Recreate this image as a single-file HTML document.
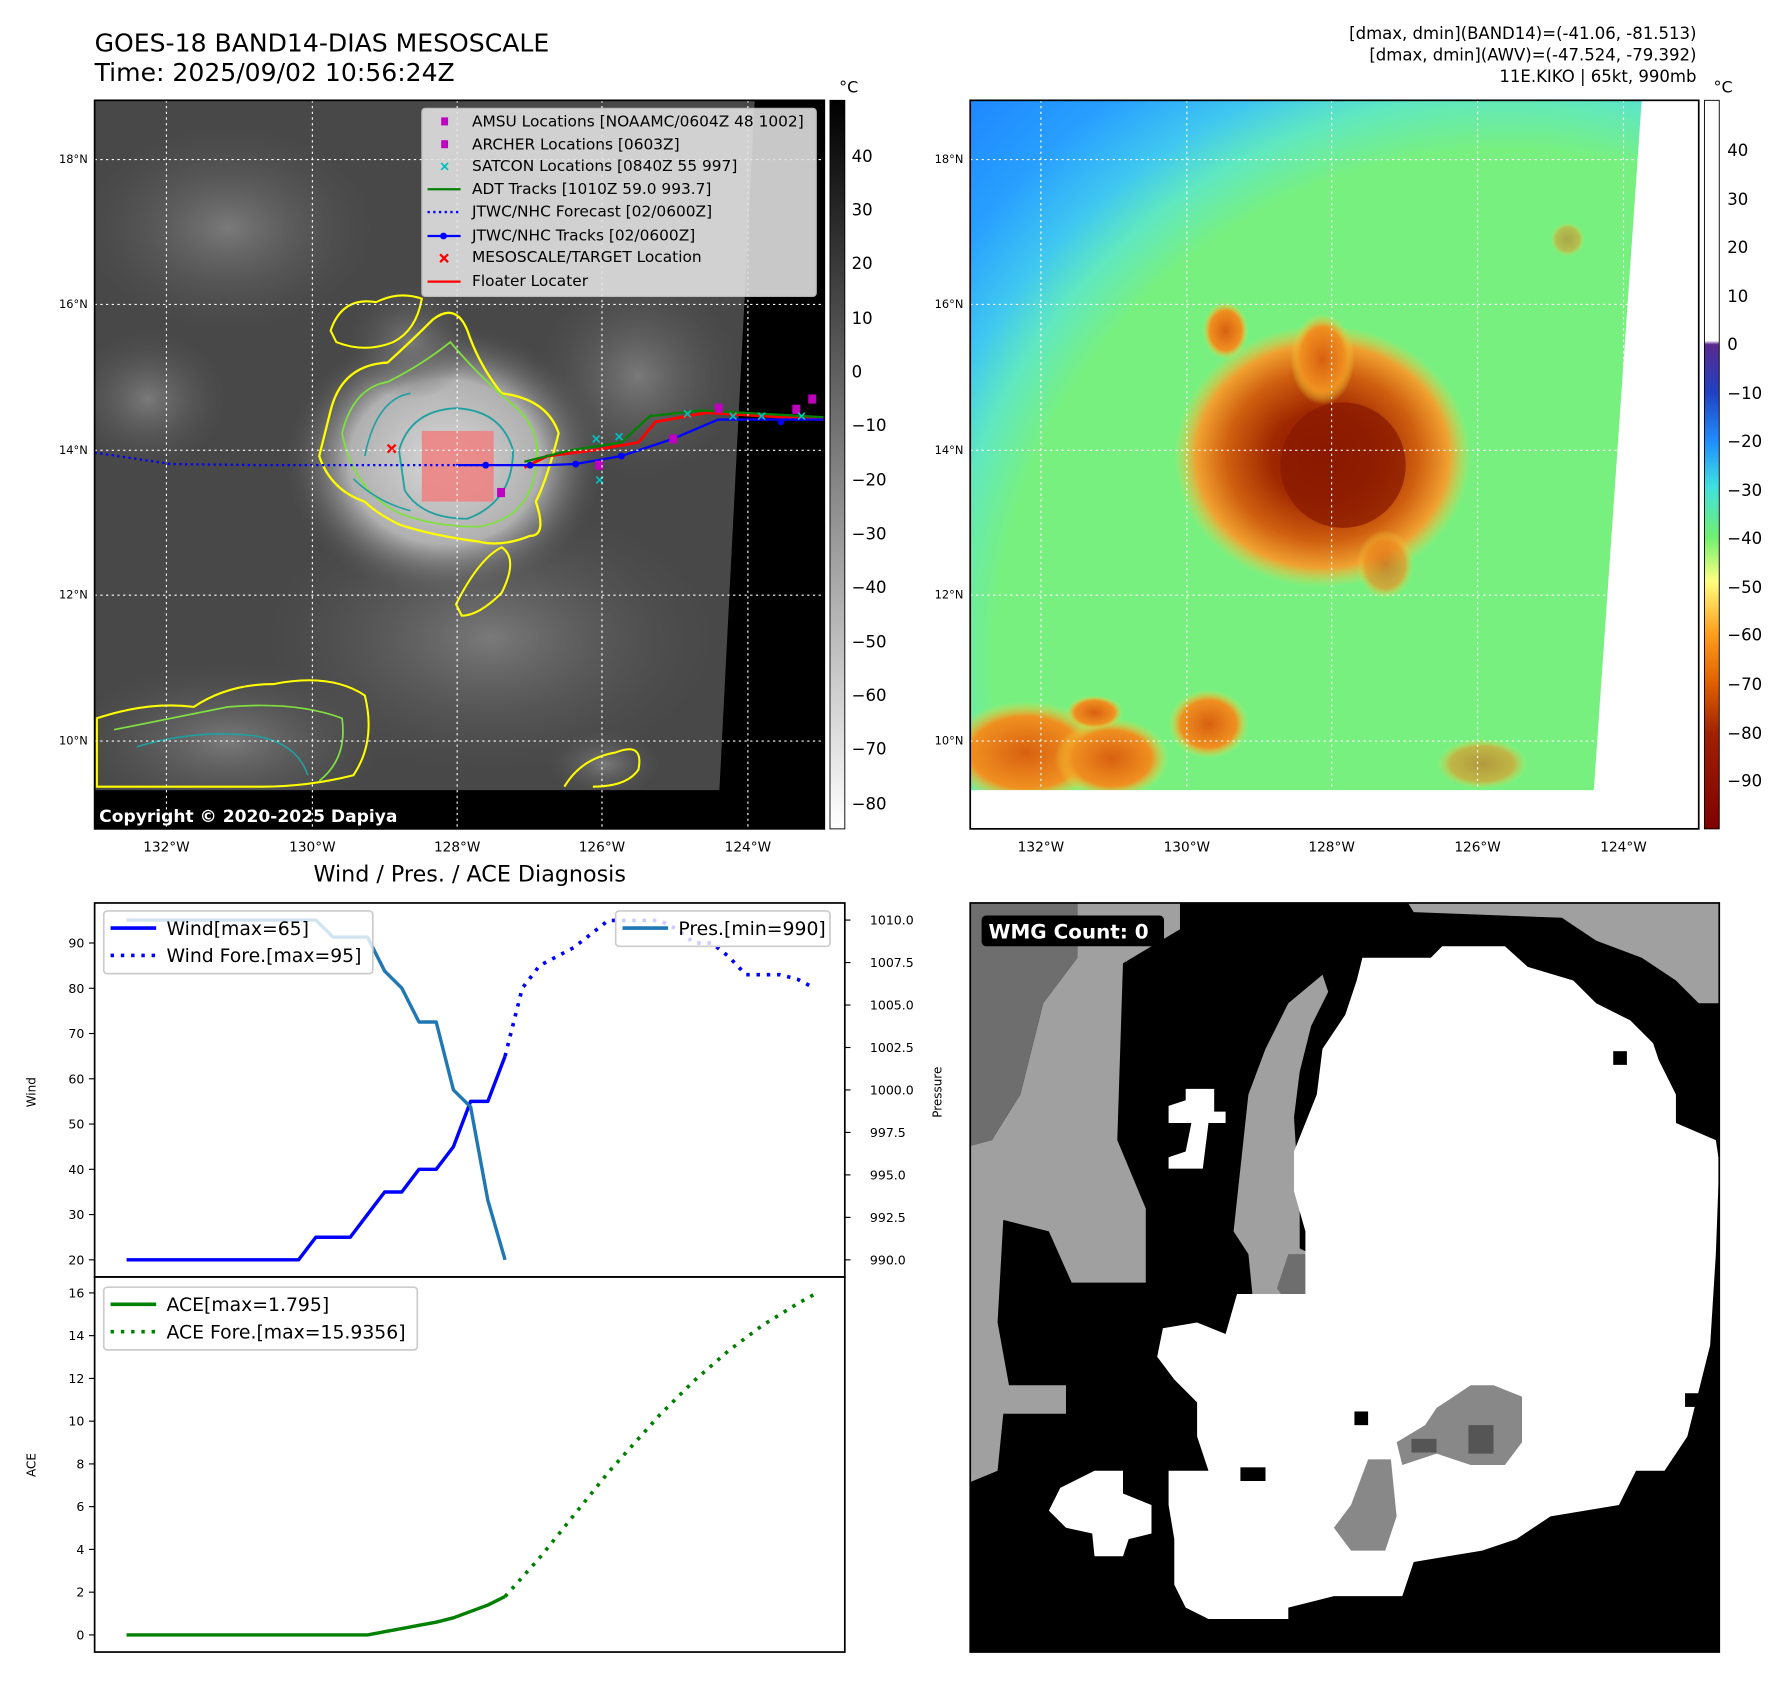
<!DOCTYPE html>
<html><head><meta charset="utf-8"><style>
html,body{margin:0;padding:0;background:#fff;}
svg{display:block;font-family:"DejaVu Sans","Liberation Sans",sans-serif;}
</style></head><body>
<svg id="fig" width="1788" height="1690" viewBox="0 0 1568.3 1482.3" preserveAspectRatio="none" xmlns="http://www.w3.org/2000/svg">
<defs>
<linearGradient id="grayBar" x1="0" y1="0" x2="0" y2="1"><stop offset="0" stop-color="#000"/><stop offset="1" stop-color="#fff"/></linearGradient>
<linearGradient id="colBar" x1="0" y1="0" x2="0" y2="1">
<stop offset="0" stop-color="#fff"/><stop offset="0.33" stop-color="#fff"/><stop offset="0.335" stop-color="#5a2a90"/>
<stop offset="0.4" stop-color="#2040c0"/><stop offset="0.47" stop-color="#2090ff"/><stop offset="0.53" stop-color="#40e0e0"/>
<stop offset="0.6" stop-color="#70f070"/><stop offset="0.66" stop-color="#ffff80"/><stop offset="0.73" stop-color="#ffa020"/>
<stop offset="0.8" stop-color="#e06000"/><stop offset="0.87" stop-color="#a02000"/><stop offset="1" stop-color="#800000"/></linearGradient>
<radialGradient id="skyGrad" gradientUnits="userSpaceOnUse" cx="1320" cy="580" r="680">
<stop offset="0" stop-color="#78f080"/><stop offset="0.66" stop-color="#78f080"/><stop offset="0.73" stop-color="#60e8c0"/>
<stop offset="0.79" stop-color="#40c8f0"/><stop offset="0.88" stop-color="#28a0ff"/><stop offset="1" stop-color="#1e88ff"/></radialGradient>
<radialGradient id="stormGrad"><stop offset="0" stop-color="#8a1800"/><stop offset="0.35" stop-color="#a02800"/><stop offset="0.65" stop-color="#d06010"/><stop offset="0.85" stop-color="#f0a030"/><stop offset="1" stop-color="#f0d040" stop-opacity="0"/></radialGradient>
<radialGradient id="blobGrad"><stop offset="0" stop-color="#d86010"/><stop offset="0.7" stop-color="#f09020"/><stop offset="1" stop-color="#f0e040" stop-opacity="0"/></radialGradient>
<radialGradient id="cloudGrad"><stop offset="0" stop-color="#d8d8d8"/><stop offset="0.6" stop-color="#b0b0b0"/><stop offset="1" stop-color="#555" stop-opacity="0"/></radialGradient>
<radialGradient id="cloudGrad2"><stop offset="0" stop-color="#7a7a7a"/><stop offset="1" stop-color="#555" stop-opacity="0"/></radialGradient>
<clipPath id="clipL"><rect x="83" y="88" width="640" height="639"/></clipPath>
<clipPath id="clipR"><rect x="851" y="88" width="639" height="639"/></clipPath>
</defs>

<text x="83" y="45" font-size="22">GOES-18 BAND14-DIAS MESOSCALE</text>
<text x="83" y="71" font-size="22">Time: 2025/09/02 10:56:24Z</text>
<g font-size="14.5" text-anchor="end">
<text x="1488" y="34">[dmax, dmin](BAND14)=(-41.06, -81.513)</text>
<text x="1488" y="53">[dmax, dmin](AWV)=(-47.524, -79.392)</text>
<text x="1488" y="72">11E.KIKO | 65kt, 990mb</text>
</g>

<g clip-path="url(#clipL)">
<rect x="83" y="88" width="640" height="639" fill="#484848"/>
<ellipse cx="200" cy="200" rx="130" ry="90" fill="url(#cloudGrad2)"/>
<ellipse cx="130" cy="350" rx="70" ry="60" fill="url(#cloudGrad2)"/>
<ellipse cx="430" cy="560" rx="200" ry="120" fill="url(#cloudGrad2)"/>
<ellipse cx="560" cy="330" rx="90" ry="90" fill="url(#cloudGrad2)"/>
<ellipse cx="390" cy="405" rx="140" ry="120" fill="url(#cloudGrad)"/>
<ellipse cx="360" cy="300" rx="55" ry="50" fill="url(#cloudGrad2)"/>
<ellipse cx="200" cy="650" rx="140" ry="70" fill="url(#cloudGrad2)"/>
<ellipse cx="530" cy="670" rx="50" ry="30" fill="url(#cloudGrad2)"/>
<path d="M290,360 Q300,320 340,318 Q360,300 380,280 Q400,265 410,290 Q420,320 440,345 Q480,350 490,380 Q480,420 470,440 Q480,470 465,470 Q440,480 420,475 Q380,470 350,460 Q330,450 320,440 Q290,430 280,400 Z" fill="none" stroke="#ffff00" stroke-width="2"/>
<path d="M300,380 Q310,340 340,335 Q370,320 395,300 Q420,330 450,355 Q480,380 468,420 Q460,455 420,462 Q380,462 350,450 Q310,430 300,380 Z" fill="none" stroke="#80e040" stroke-width="1.6"/>
<path d="M350,395 Q360,360 400,358 Q440,360 450,395 Q450,440 410,455 Q370,455 355,430 Z" fill="none" stroke="#20a0a0" stroke-width="1.6"/>
<path d="M320,400 Q330,350 360,345 M310,420 Q330,440 360,448" fill="none" stroke="#20a0a0" stroke-width="1.4"/>
<path d="M290,290 Q300,260 330,265 Q350,255 370,262 Q365,290 345,300 Q320,310 295,300 Z" fill="none" stroke="#ffff00" stroke-width="1.8"/>
<path d="M85,630 Q130,615 170,620 Q200,600 240,600 Q290,590 320,610 Q330,650 310,680 Q270,690 230,690 L85,690 Z" fill="none" stroke="#ffff00" stroke-width="1.8"/>
<path d="M100,640 Q150,630 200,620 Q260,615 300,630 Q305,665 280,685" fill="none" stroke="#80e040" stroke-width="1.5"/>
<path d="M120,655 Q170,640 220,645 Q260,650 270,680" fill="none" stroke="#20a0a0" stroke-width="1.4"/>
<path d="M495,690 Q510,665 540,660 Q565,650 560,675 Q550,690 520,690" fill="none" stroke="#ffff00" stroke-width="1.8"/>
<path d="M400,530 Q420,490 440,480 Q455,490 440,520 Q420,540 405,540 Z" fill="none" stroke="#ffff00" stroke-width="1.8"/>
<polygon points="662,88 723,88 723,727 83,727 83,693 631,693" fill="#000"/>
<rect x="370" y="378" width="63" height="62" fill="#f08080" opacity="0.85"/>
<polyline points="83,397 150,407 230,408 330,408 430,408" fill="none" stroke="#0000ff" stroke-width="2" stroke-dasharray="2,3"/>
<polyline points="460,410 480,400 520,395 560,388 575,370 620,362 723,368" fill="none" stroke="#ff0000" stroke-width="2.5"/>
<polyline points="460,405 500,395 545,388 570,365 615,360 723,366" fill="none" stroke="#008000" stroke-width="2"/>
<polyline points="400,408 440,408 480,408 505,407 545,400 590,385 630,368 723,368" fill="none" stroke="#0000ff" stroke-width="2"/>
<g fill="#0000ff"><circle cx="426" cy="408" r="3"/><circle cx="465" cy="408" r="3"/><circle cx="505" cy="407" r="3"/><circle cx="545" cy="400" r="3"/><circle cx="590" cy="385" r="3"/><circle cx="685" cy="370" r="3"/></g>
<g fill="#c000c0"><rect x="436" y="428" width="7" height="8"/><rect x="522" y="404" width="7" height="8"/><rect x="587" y="381" width="7" height="8"/><rect x="627" y="354" width="7" height="8"/><rect x="695" y="355" width="7" height="8"/><rect x="709" y="346" width="7" height="8"/></g>
<g stroke="#00c0c0" stroke-width="1.5">
<path d="M520,382 l6,6 m0,-6 l-6,6 M540,380 l6,6 m0,-6 l-6,6 M600,360 l6,6 m0,-6 l-6,6 M640,362 l6,6 m0,-6 l-6,6 M665,362 l6,6 m0,-6 l-6,6 M700,362 l6,6 m0,-6 l-6,6 M523,418 l6,6 m0,-6 l-6,6"/></g>
<path d="M340,390 l7,7 m0,-7 l-7,7" stroke="#ff0000" stroke-width="2"/>
<g stroke="#fff" stroke-width="1" stroke-dasharray="2,3">
<line x1="146" y1="88" x2="146" y2="727"/><line x1="274" y1="88" x2="274" y2="727"/><line x1="401" y1="88" x2="401" y2="727"/><line x1="528" y1="88" x2="528" y2="727"/><line x1="656" y1="88" x2="656" y2="727"/>
<line x1="83" y1="140" x2="723" y2="140"/><line x1="83" y1="267" x2="723" y2="267"/><line x1="83" y1="395" x2="723" y2="395"/><line x1="83" y1="522" x2="723" y2="522"/><line x1="83" y1="650" x2="723" y2="650"/>
</g>
<g>
<rect x="370" y="95" width="346" height="165" rx="3" fill="#e4e4e4" opacity="0.88" stroke="#ccc"/>
<rect x="387" y="103" width="6" height="7" fill="#c000c0"/>
<rect x="387" y="123" width="6" height="7" fill="#c000c0"/>
<path d="M387,143 l6,6 m0,-6 l-6,6" stroke="#00c0c0" stroke-width="1.5"/>
<line x1="375" y1="166" x2="404" y2="166" stroke="#008000" stroke-width="2"/>
<line x1="375" y1="186" x2="404" y2="186" stroke="#0000ff" stroke-width="2" stroke-dasharray="2,3"/>
<line x1="375" y1="207" x2="404" y2="207" stroke="#0000ff" stroke-width="2"/><circle cx="389" cy="207" r="3" fill="#0000ff"/>
<path d="M386,223 l7,7 m0,-7 l-7,7" stroke="#ff0000" stroke-width="2"/>
<line x1="375" y1="247" x2="404" y2="247" stroke="#ff0000" stroke-width="2"/>
<g font-size="13.5" fill="#000">
<text x="414" y="111">AMSU Locations [NOAAMC/0604Z 48 1002]</text>
<text x="414" y="131">ARCHER Locations [0603Z]</text>
<text x="414" y="150">SATCON Locations [0840Z 55 997]</text>
<text x="414" y="170">ADT Tracks [1010Z 59.0 993.7]</text>
<text x="414" y="190">JTWC/NHC Forecast [02/0600Z]</text>
<text x="414" y="211">JTWC/NHC Tracks [02/0600Z]</text>
<text x="414" y="230">MESOSCALE/TARGET Location</text>
<text x="414" y="251">Floater Locater</text>
</g></g>
<text x="87" y="721" font-size="15" font-weight="bold" fill="#fff">Copyright © 2020-2025 Dapiya</text>
</g>
<rect x="83" y="88" width="640" height="639" fill="none" stroke="#000" stroke-width="1.5"/>
<rect x="728" y="88" width="13" height="639" fill="url(#grayBar)" stroke="#000" stroke-width="0.8"/>
<text x="736" y="81" font-size="14">°C</text>
<g font-size="14.5">
<text x="747" y="142">40</text><text x="747" y="189">30</text><text x="747" y="236">20</text><text x="747" y="284">10</text><text x="747" y="331">0</text>
<text x="747" y="378">−10</text><text x="747" y="426">−20</text><text x="747" y="473">−30</text><text x="747" y="520">−40</text><text x="747" y="568">−50</text><text x="747" y="615">−60</text><text x="747" y="662">−70</text><text x="747" y="710">−80</text>
</g>

<g clip-path="url(#clipR)">
<rect x="851" y="88" width="639" height="639" fill="url(#skyGrad)"/>
<ellipse cx="1160" cy="400" rx="130" ry="115" fill="url(#stormGrad)"/>
<ellipse cx="1178" cy="408" rx="55" ry="55" fill="#8a1a00" opacity="0.75"/>
<ellipse cx="1160" cy="315" rx="28" ry="40" fill="url(#blobGrad)"/>
<ellipse cx="1075" cy="290" rx="20" ry="25" fill="url(#blobGrad)"/>
<ellipse cx="1215" cy="495" rx="25" ry="30" fill="url(#blobGrad)" opacity="0.7"/>
<ellipse cx="900" cy="660" rx="70" ry="45" fill="url(#blobGrad)"/>
<ellipse cx="975" cy="665" rx="50" ry="35" fill="url(#blobGrad)"/>
<ellipse cx="1060" cy="635" rx="35" ry="30" fill="url(#blobGrad)"/>
<ellipse cx="960" cy="625" rx="25" ry="15" fill="url(#blobGrad)"/>
<ellipse cx="1300" cy="670" rx="40" ry="22" fill="url(#blobGrad)" opacity="0.6"/>
<ellipse cx="1375" cy="210" rx="15" ry="15" fill="url(#blobGrad)" opacity="0.5"/>
<polygon points="1440,88 1490,88 1490,727 851,727 851,693 1398,693" fill="#fff"/>
<g stroke="#fff" stroke-width="1" stroke-dasharray="2,3">
<line x1="913" y1="88" x2="913" y2="727"/><line x1="1041" y1="88" x2="1041" y2="727"/><line x1="1168" y1="88" x2="1168" y2="727"/><line x1="1296" y1="88" x2="1296" y2="727"/><line x1="1424" y1="88" x2="1424" y2="727"/>
<line x1="851" y1="140" x2="1490" y2="140"/><line x1="851" y1="267" x2="1490" y2="267"/><line x1="851" y1="395" x2="1490" y2="395"/><line x1="851" y1="522" x2="1490" y2="522"/><line x1="851" y1="650" x2="1490" y2="650"/>
</g></g>
<rect x="851" y="88" width="639" height="639" fill="none" stroke="#000" stroke-width="1.5"/>
<rect x="1495" y="88" width="13" height="639" fill="url(#colBar)" stroke="#000" stroke-width="0.8"/>
<text x="1503" y="81" font-size="14">°C</text>
<g font-size="14.5">
<text x="1515" y="137">40</text><text x="1515" y="180">30</text><text x="1515" y="222">20</text><text x="1515" y="265">10</text><text x="1515" y="307">0</text>
<text x="1515" y="350">−10</text><text x="1515" y="392">−20</text><text x="1515" y="435">−30</text><text x="1515" y="477">−40</text><text x="1515" y="520">−50</text><text x="1515" y="562">−60</text><text x="1515" y="605">−70</text><text x="1515" y="648">−80</text><text x="1515" y="690">−90</text>
</g>

<g font-size="12" text-anchor="middle">
<text x="146" y="747">132°W</text><text x="274" y="747">130°W</text><text x="401" y="747">128°W</text><text x="528" y="747">126°W</text><text x="656" y="747">124°W</text>
<text x="913" y="747">132°W</text><text x="1041" y="747">130°W</text><text x="1168" y="747">128°W</text><text x="1296" y="747">126°W</text><text x="1424" y="747">124°W</text>
</g>
<g font-size="10" text-anchor="end">
<text x="77" y="143">18°N</text><text x="77" y="270">16°N</text><text x="77" y="398">14°N</text><text x="77" y="525">12°N</text><text x="77" y="653">10°N</text>
<text x="845" y="143">18°N</text><text x="845" y="270">16°N</text><text x="845" y="398">14°N</text><text x="845" y="525">12°N</text><text x="845" y="653">10°N</text>
</g>

<text x="412" y="773" font-size="19.5" text-anchor="middle">Wind / Pres. / ACE Diagnosis</text>
<g id="diag"></g>

<g>
<rect x="851" y="792" width="657" height="657" fill="#000"/>
<polygon fill="#a0a0a0" points="945,792 1035,792 1035,815 985,845 980,1000 1005,1060 1005,1125 940,1125 920,1080 880,1070 875,1160 885,1215 935,1215 935,1240 880,1240 875,1290 851,1300 851,1005 870,1000 895,960 915,880 945,840"/>
<polygon fill="#6e6e6e" points="851,792 945,792 945,840 915,880 895,960 870,1000 851,1005"/>
<polygon fill="#a0a0a0" points="1160,855 1130,880 1110,920 1095,960 1082,1080 1095,1100 1100,1150 1150,1160 1200,1150 1205,1120 1170,1110 1140,1095 1140,1060 1135,980 1140,940 1150,900 1165,870"/>
<polygon fill="#6e6e6e" points="1130,1100 1150,1100 1160,1130 1165,1160 1135,1150 1120,1130"/>
<polygon fill="#a0a0a0" points="1235,792 1508,792 1508,880 1490,880 1470,860 1440,840 1400,825 1370,805 1240,800"/>
<polygon fill="#fff" points="1195,840 1255,840 1265,830 1320,830 1340,848 1380,860 1400,880 1430,895 1450,915 1455,930 1470,960 1470,985 1505,1000 1508,1020 1505,1100 1500,1180 1480,1260 1460,1290 1435,1290 1420,1320 1360,1330 1330,1350 1300,1360 1270,1365 1240,1370 1230,1400 1170,1400 1130,1410 1130,1420 1060,1420 1040,1410 1030,1390 1030,1350 1025,1320 1025,1290 1060,1290 1050,1260 1050,1230 1030,1210 1015,1190 1020,1165 1050,1160 1075,1170 1085,1135 1145,1135 1145,1080 1135,1045 1135,1010 1155,960 1160,920 1180,890 1190,860"/>
<polygon fill="#fff" points="1040,955 1065,955 1065,975 1075,975 1075,985 1060,985 1055,1025 1025,1025 1025,1015 1040,1010 1045,985 1025,985 1025,970 1040,965"/>
<polygon fill="#fff" points="930,1305 960,1290 985,1290 985,1310 1010,1320 1010,1345 990,1350 985,1365 960,1365 958,1345 935,1340 920,1325"/>
<polygon fill="#888" points="1200,1280 1220,1280 1225,1330 1215,1360 1185,1360 1170,1340 1185,1320"/>
<polygon fill="#888" points="1290,1215 1310,1215 1335,1225 1335,1265 1320,1285 1290,1285 1260,1275 1230,1285 1225,1265 1250,1250 1260,1235"/>
<polygon fill="#555" points="1288,1250 1310,1250 1310,1275 1288,1275"/>
<rect x="1238" y="1262" width="22" height="12" fill="#555"/>
<rect x="1415" y="922" width="12" height="12" fill="#000"/>
<rect x="1088" y="1287" width="22" height="12" fill="#000"/>
<rect x="1188" y="1238" width="12" height="12" fill="#000"/>
<rect x="1478" y="1222" width="25" height="12" fill="#000"/>
<rect x="861" y="803" width="160" height="27" rx="4" fill="#000"/>
<text x="867" y="823" font-size="17.5" font-weight="bold" fill="#fff">WMG Count: 0</text>
<rect x="851" y="792" width="657" height="657" fill="none" stroke="#000" stroke-width="1.5"/>
</g>

<script>
const windIdx = [0,1,2,3,4,5,6,7,8,9,10,11,12,13,14,15,16,17,18,19,20,21,22];
const windVals = [20,20,20,20,20,20,20,20,20,20,20,25,25,25,30,35,35,40,40,45,55,55,65];
const windForeIdx = [22,23,24,25,26,27,28,29,30,31,32,33,34,35,36,37,38,39,40];
const windForeVals = [65,80,85,87,89,92,95,95,95,95,93,90,90,87,83,83,83,82,80];
const presVals = [1010,1010,1010,1010,1010,1010,1010,1010,1010,1010,1010,1010,1009,1009,1009,1007,1006,1004,1004,1000,999,993.5,990];
const aceVals = [0,0,0,0,0,0,0,0,0,0,0,0,0,0,0,0.15,0.3,0.45,0.6,0.8,1.1,1.4,1.8];
const aceForeVals = [1.8,2.7,3.6,4.6,5.6,6.6,7.6,8.5,9.4,10.3,11.1,11.9,12.6,13.3,13.9,14.5,15.0,15.5,15.94];
const windTicks = [20,30,40,50,60,70,80,90];
const presTicks = [990,992.5,995,997.5,1000,1002.5,1005,1007.5,1010];
const aceTicks = [0,2,4,6,8,10,12,14,16];

const NS = 'http://www.w3.org/2000/svg';
const X0 = 111, DX = 15.09;
function xs(i){ return X0 + i*DX; }
function yWind(v){ return 1105 - (v-20)*3.97; }
function yPres(p){ return 1105 - (p-990)*14.9; }
function yAce(a){ return 1434 - a*18.75; }
const g = document.getElementById('diag');
function mk(tag, attrs){ const e=document.createElementNS(NS,tag); for(const k in attrs) e.setAttribute(k,attrs[k]); g.appendChild(e); return e; }
function line(idx, vals, yf, color, dash, name){
  const pts = vals.map((v,k)=>xs(idx[k]).toFixed(1)+','+yf(v).toFixed(1)).join(' ');
  const e = mk('polyline',{points:pts,fill:'none',stroke:color,'stroke-width':dash?3.2:3,'stroke-dasharray':dash||'none','stroke-linejoin':'round'});
  
  
}
let f1 = mk('rect',{x:83,y:792,width:658,height:328,fill:'none',stroke:'#000','stroke-width':1.5});


let f2 = mk('rect',{x:83,y:1120,width:658,height:329,fill:'none',stroke:'#000','stroke-width':1.5});


windTicks.forEach(v=>{ const y=yWind(v);
  mk('line',{x1:78,y1:y,x2:83,y2:y,stroke:'#000','stroke-width':1});
  const t=mk('text',{x:74,y:y+4,'font-size':11,'text-anchor':'end'}); t.textContent=v;
  
  
});
presTicks.forEach(p=>{ const y=yPres(p);
  mk('line',{x1:741,y1:y,x2:746,y2:y,stroke:'#000','stroke-width':1});
  const t=mk('text',{x:763,y:y+4,'font-size':11}); t.textContent=p.toFixed(1);
  
  
});
aceTicks.forEach(a=>{ const y=yAce(a);
  mk('line',{x1:78,y1:y,x2:83,y2:y,stroke:'#000','stroke-width':1});
  const t=mk('text',{x:74,y:y+4,'font-size':11,'text-anchor':'end'}); t.textContent=a;
  
  
});
let yl1 = mk('text',{x:0,y:0,'font-size':10.5,'text-anchor':'middle',transform:'translate(31,958) rotate(-90)'}); yl1.textContent='Wind';


let yl2 = mk('text',{x:0,y:0,'font-size':10.5,'text-anchor':'middle',transform:'translate(826,958) rotate(-90)'}); yl2.textContent='Pressure';


let yl3 = mk('text',{x:0,y:0,'font-size':10.5,'text-anchor':'middle',transform:'translate(31,1285) rotate(-90)'}); yl3.textContent='ACE';


line(windIdx, windVals, yWind, '#0000ff', null, 'wind-line');
line(windForeIdx, windForeVals, yWind, '#0000ff', '3,6', 'wind-forecast-line');
line(windIdx, presVals, yPres, '#1f77b4', null, 'pressure-line');
line(windIdx, aceVals, yAce, '#008000', null, 'ace-line');
line(windForeIdx, aceForeVals, yAce, '#008000', '3,6', 'ace-forecast-line');
function legend(x,y,w,h,items,name){
  const r=mk('rect',{x:x,y:y,width:w,height:h,rx:3,fill:'#fff','fill-opacity':0.8,stroke:'#ccc','stroke-width':1.5});
  
  
  items.forEach((it,k)=>{ const yy=y+15+k*24;
    mk('line',{x1:x+6,y1:yy,x2:x+46,y2:yy,stroke:it[1],'stroke-width':3.2,'stroke-dasharray':it[2]||'none'});
    const t=mk('text',{x:x+55,y:yy+6,'font-size':16.5}); t.textContent=it[0];
    
    
  });
}
legend(91,799,236,55,[['Wind[max=65]','#0000ff'],['Wind Fore.[max=95]','#0000ff','3,6']],'wind-legend');
legend(540,799,188,31,[['Pres.[min=990]','#1f77b4']],'pressure-legend');
legend(91,1129,275,55,[['ACE[max=1.795]','#008000'],['ACE Fore.[max=15.9356]','#008000','3,6']],'ace-legend');
</script>
</svg>
</body></html>
